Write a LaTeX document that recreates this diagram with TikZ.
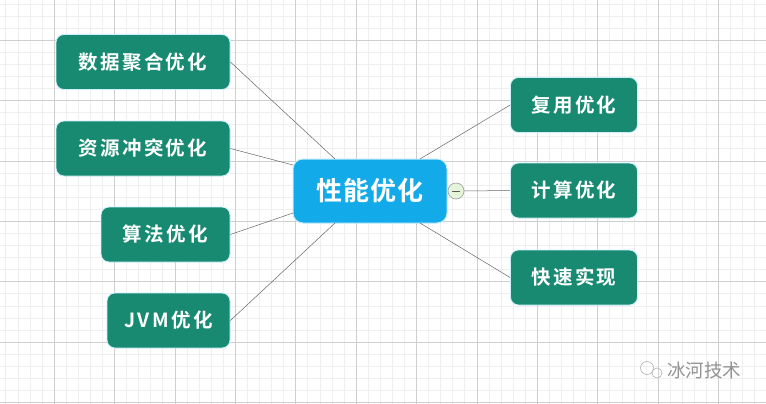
\documentclass[tikz,border=0pt]{standalone}
\usepackage{fontspec}
\usetikzlibrary{calc}
\newfontfamily\cjk{Noto Sans CJK SC}
\newfontfamily\cjkb[BoldFont={Noto Sans CJK SC Bold},LetterSpace=12]{Noto Sans CJK SC}
\newfontfamily\cjkc[BoldFont={Noto Sans CJK SC Bold},LetterSpace=5]{Noto Sans CJK SC}
\definecolor{teal1}{HTML}{178A71}
\definecolor{cyan1}{HTML}{13AAEA}
\definecolor{gridminor}{HTML}{EFEFEF}
\definecolor{gridmajor}{HTML}{CFCFCF}
\tikzset{
  child/.style={draw=cyan!20, line width=0.8pt, fill=teal1, rounded corners=8pt, text=white,
     minimum height=55pt, font=\cjkb\bfseries\fontsize{19.5}{22}\selectfont, inner sep=0pt},
  center/.style={draw=cyan!25, line width=1pt, fill=cyan1, rounded corners=10pt, text=white,
     minimum width=154pt, minimum height=64pt, font=\cjkc\bfseries\fontsize{26}{29}\selectfont, inner sep=0pt},
  conn/.style={draw=gray!80!black, line width=0.5pt}
}
\begin{document}
\begin{tikzpicture}[x=1pt,y=-1pt]
\useasboundingbox (0,0) rectangle (766,404);
\fill[white] (0,0) rectangle (766,404);
% grid
\foreach \k in {0,...,63} \draw[gridminor, line width=0.5pt] (5.68+12.08*\k,0) -- (5.68+12.08*\k,404);
\foreach \k in {0,...,33} \draw[gridminor, line width=0.5pt] (0,3.76+12.08*\k) -- (766,3.76+12.08*\k);
\foreach \k in {0,...,11} \draw[gridmajor, line width=0.6pt] (54+60.4*\k,0) -- (54+60.4*\k,404);
\foreach \k in {0,...,6} \draw[gridmajor, line width=0.6pt] (0,40+60.4*\k) -- (766,40+60.4*\k);

% center
\node[center] (c) at (370,191) {性能优化};
% left children
\node[child, minimum width=174pt] (l1) at (143,62) {数据聚合优化};
\node[child, minimum width=174pt] (l2) at (143,148.5) {资源冲突优化};
\node[child, minimum width=129pt] (l3) at (165.5,234.5) {算法优化};
\node[child, minimum width=123pt] (l4) at (168.5,320.5) {JVM优化};
% right children
\node[child, minimum width=127pt] (r1) at (574,105) {复用优化};
\node[child, minimum width=127pt] (r2) at (574,190.5) {计算优化};
\node[child, minimum width=127pt] (r3) at (574,277.5) {快速实现};

% connectors
\coordinate (c1) at (335,159);
\coordinate (c2) at (293,165);
\coordinate (c3) at (293,213);
\coordinate (c4) at (335,223);
\coordinate (c5) at (420,159);
\coordinate (c7) at (420,223);
\draw[conn] (l1.east) -- (c1);
\draw[conn] (l2.east) -- (c2);
\draw[conn] (l3.east) -- (c3);
\draw[conn] (l4.east) -- (c4);
\draw[conn] (r1.west) -- (c5);
\draw[conn] (r3.west) -- (c7);
% collapse toggle
\node[circle, draw=gray!70, fill=yellow!30!green!15, minimum size=16pt, inner sep=0pt, line width=0.7pt] (tg) at (456,191) {};
\draw[gray!70!black, line width=0.8pt] ($(tg.center)+(-4,0)$) -- ($(tg.center)+(4,0)$);
\draw[conn] (tg.east) -- (r2.west);

% watermark
\node[font=\cjk\fontsize{18.5}{20}\selectfont, text=gray!85, anchor=west, inner sep=0pt] (wm) at (667,370) {冰河技术};
\draw[gray!60, line width=0.6pt] (647,368) circle (6.5pt);
\draw[gray!60, line width=0.6pt] (657,373) circle (5pt);
\end{tikzpicture}
\end{document}
